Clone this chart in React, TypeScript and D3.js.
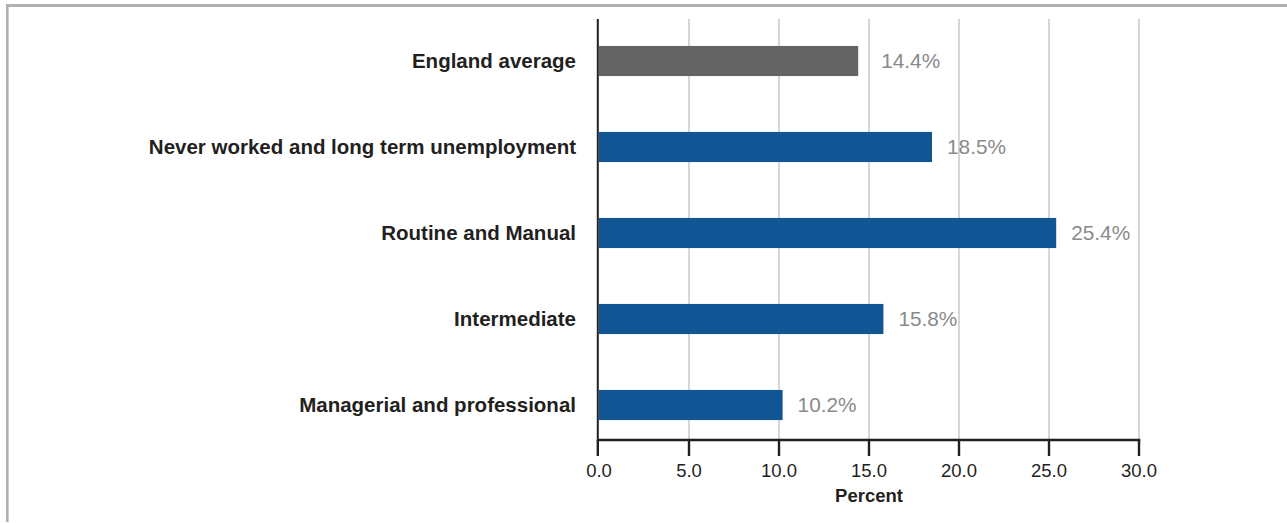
import React from "react";
import * as d3 from "d3";

const categories = [
  "England average",
  "Never worked and long term unemployment",
  "Routine and Manual",
  "Intermediate",
  "Managerial and professional",
];
const values = [14.4, 18.5, 25.4, 15.8, 10.2];
const valueLabels = ["14.4%", "18.5%", "25.4%", "15.8%", "10.2%"];
const xTicks = [0, 5, 10, 15, 20, 25, 30];
const xTickLabels = ["0.0", "5.0", "10.0", "15.0", "20.0", "25.0", "30.0"];
const xAxisTitle = "Percent";

const W = 1287;
const H = 523;

export default function App() {
  const x = d3.scaleLinear().domain([0, 30]).range([599, 1139]);
  const y = d3.scaleBand<string>().domain(categories).range([18, 448]).paddingInner(0.65).paddingOuter(0.325);
  const bw = y.bandwidth();
  const axisY = 440;
  const font = "'Liberation Sans', Arial, Helvetica, sans-serif";

  return (
    <svg width={W} height={H} style={{ position: "absolute", left: 0, top: 0, background: "#fff" }}>
      {/* frame */}
      <line x1={6} x2={W} y1={5.5} y2={5.5} stroke="#b0b0b4" strokeWidth={3} />
      <line x1={7.3} x2={7.3} y1={4} y2={522} stroke="#b0b0b4" strokeWidth={2.6} />

      {/* gridlines */}
      {xTicks.filter((t) => t > 0).map((t) => (
        <line key={"g" + t} x1={x(t)} x2={x(t)} y1={19} y2={axisY} stroke="#d6d6d6" strokeWidth={2} />
      ))}

      {/* bars */}
      {categories.map((c, i) => (
        <rect
          key={c}
          x={x(0)}
          y={y(c)!}
          width={x(values[i]) - x(0)}
          height={bw}
          fill={i === 0 ? "#636463" : "#115694"}
        />
      ))}

      {/* value labels */}
      {categories.map((c, i) => (
        <text
          key={"v" + c}
          x={x(values[i]) + (i === 0 ? 23 : 15)}
          y={y(c)! + bw / 2}
          dy="0.36em"
          fontFamily={font}
          fontSize={20.8}
          fill="#8a8a8a"
        >
          {valueLabels[i]}
        </text>
      ))}

      {/* category labels */}
      {categories.map((c) => (
        <text
          key={"c" + c}
          x={576}
          y={y(c)! + bw / 2}
          dy="0.36em"
          textAnchor="end"
          fontFamily={font}
          fontSize={20.5}
          fontWeight="bold"
          fill="#231f20"
        >
          {c}
        </text>
      ))}

      {/* axes */}
      <line x1={597.8} x2={597.8} y1={19} y2={axisY + 1} stroke="#231f20" strokeWidth={2} />
      <line x1={597} x2={1140.3} y1={axisY} y2={axisY} stroke="#231f20" strokeWidth={2.5} />
      {xTicks.map((t, i) => (
        <g key={"t" + t}>
          <line x1={i === 0 ? 597.8 : x(t)} x2={i === 0 ? 597.8 : x(t)} y1={axisY} y2={456} stroke="#231f20" strokeWidth={2.4} />
          <text x={x(t)} y={477} textAnchor="middle" fontFamily={font} fontSize={18.5} fill="#231f20">
            {xTickLabels[i]}
          </text>
        </g>
      ))}
      <text x={x(15)} y={502} textAnchor="middle" fontFamily={font} fontSize={18.5} fontWeight="bold" fill="#231f20">
        {xAxisTitle}
      </text>
    </svg>
  );
}
